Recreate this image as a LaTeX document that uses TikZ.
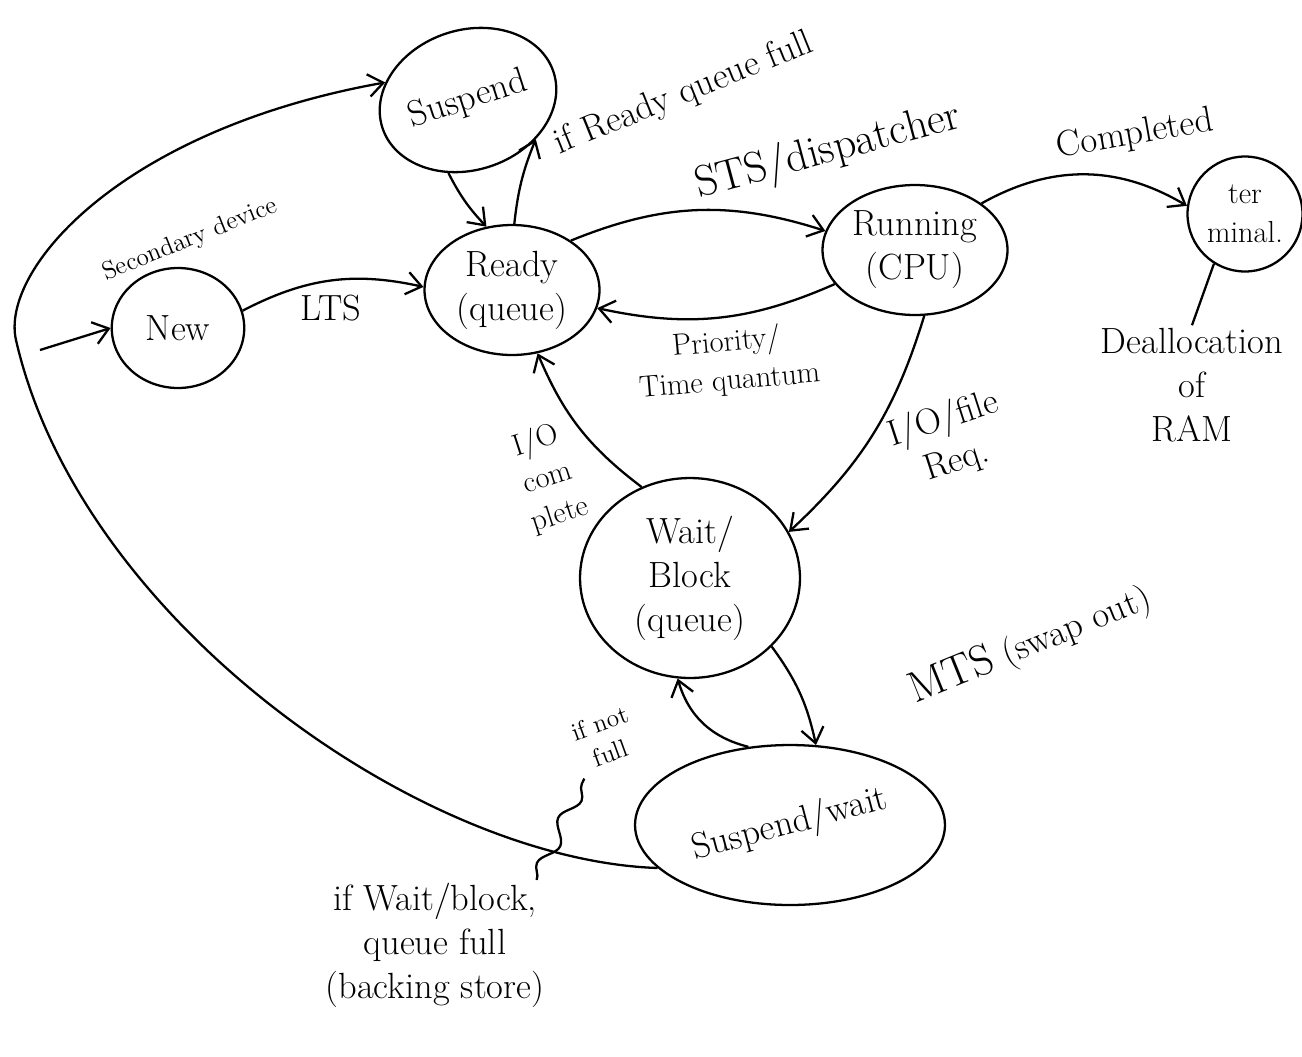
\documentclass[tikz,border=0pt]{standalone}
\usepackage{tikz}
\usetikzlibrary{shapes, arrows.meta, decorations.pathmorphing, positioning}

\begin{document}
\begin{tikzpicture}[x=0.02cm, y=-0.02cm, font=\huge, line width=1.3pt,
  >={Straight Barb[length=3mm, width=4.5mm]},
  statenode/.style={ellipse, draw, inner sep=1pt, font=\huge, align=center},
  lbl/.style={align=center, inner sep=1pt}]

\useasboundingbox (0,0) rectangle (1302,1056);

% states
\node[statenode, minimum width=2.65cm, minimum height=2.4cm] (new) at (178,328) {New};
\node[statenode, minimum width=3.6cm, minimum height=2.8cm, rotate=18] (susp) at (468,100) {Suspend};
\node[statenode, minimum width=3.5cm, minimum height=2.6cm] (ready) at (512,290) {Ready\\(queue)};
\node[statenode, minimum width=3.7cm, minimum height=2.6cm] (run) at (915,250) {Running\\(CPU)};
\node[statenode, font=\LARGE, minimum width=2.3cm, minimum height=2.3cm] (term) at (1245,214) {ter\\minal.};
\node[statenode, minimum width=4.4cm, minimum height=4cm] (wait) at (690,578) {Wait/\\Block\\(queue)};
\node[statenode, minimum width=6.2cm, minimum height=3.2cm] (swait) at (790,825) {\rotatebox{15}{Suspend/wait}};

% labels
\node[lbl, font=\Large, rotate=22] (sec) at (190,240) {Secondary device};
\node[lbl, rotate=22] (rqfull) at (684,94) {if Ready queue full};
\node[lbl, font=\Huge, rotate=15] (sts) at (828,152) {STS/dispatcher};
\node[lbl, rotate=10] (comp) at (1135,135) {Completed};
\node[lbl, font=\LARGE, rotate=5] (prio) at (728,362) {Priority/\\Time quantum};
\node[lbl] (dealloc) at (1192,385) {Deallocation\\of\\RAM};
\node[lbl, rotate=18] (iofile) at (950,440) {I/O/file\\Req.};
\node[lbl, font=\LARGE, rotate=18] (iocomp) at (548,478) {I/O\\com\\plete};
\node[lbl, rotate=22] (mts) at (1030,645) {{\Huge MTS} (swap out)};
\node[lbl, font=\Large, rotate=20] (notfull) at (605,738) {if not\\full};
\node[lbl] (bsl) at (435,945) {if Wait/block,\\queue full\\(backing store)};
\coordinate (start) at (40,350);
\coordinate (loopA) at (16,340);

% transitions
\draw[->] (start) -- (new.west);
\draw[->] (new.15) to[bend left=20] node[midway, below=4pt] {LTS} (ready.178);
\draw[->] (susp.237) to[bend right=8] (ready.112);
\draw[->] (ready.88) to[bend left=8] (susp.-48);
\draw[->] (ready.40) to[bend left=20] (run.168);
\draw[->] (run.203) to[bend left=18] (ready.-12);
\draw[->] (run.35) to[bend left=30] (term.172);
\draw (term.238) -- (dealloc.north);
\draw[->] (run.-82) to[bend left=15] (wait.25);
\draw[->] (wait.118) to[bend left=15] (ready.-68);
\draw[->] (wait.-40) to[bend left=12] (swait.72);
\draw[->] (swait.118) to[bend left=30] (wait.-97);
\draw[->] (swait.198) .. controls (420,860) and (80,620) .. (loopA)
  .. controls (0,270) and (120,130) .. (susp.150);
\draw[decorate, decoration={snake, amplitude=1.4mm, segment length=10mm}]
  ([xshift=-6pt]bsl.north east) -- ([yshift=-2pt]notfull.south west);

\end{tikzpicture}
\end{document}
